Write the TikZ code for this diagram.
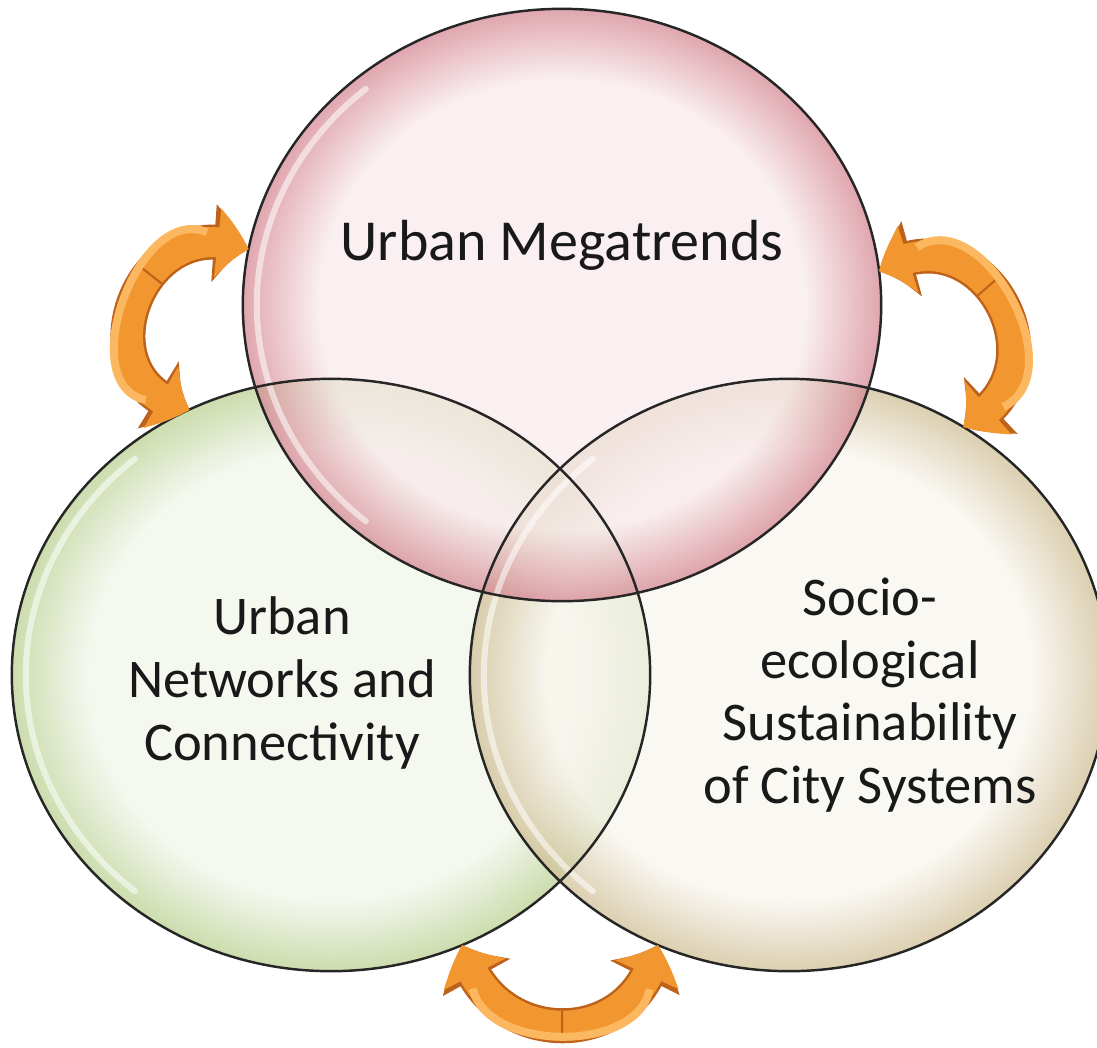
\documentclass[tikz,border=0pt]{standalone}
\usepackage{fontspec}
\setmainfont{Carlito}
\usepackage{xcolor}
\definecolor{megain}{RGB}{248,234,236}
\definecolor{megaout}{RGB}{212,132,144}
\definecolor{netin}{RGB}{241,245,233}
\definecolor{netout}{RGB}{184,207,142}
\definecolor{socin}{RGB}{248,245,238}
\definecolor{socout}{RGB}{206,189,146}
\definecolor{arrowfill}{RGB}{242,150,48}
\definecolor{arrowedge}{RGB}{188,98,26}
\definecolor{arrowlight}{RGB}{252,184,96}
\definecolor{textgray}{RGB}{25,25,25}
\usetikzlibrary{shapes}
\usetikzlibrary{arrows.meta}
\usetikzlibrary{bending}
\usepackage{tikz}

\pgfdeclareradialshading{megaball}{\pgfpoint{0bp}{0bp}}{color(0bp)=(megain); color(19bp)=(megain); color(25bp)=(megaout); color(50bp)=(megaout)}
\pgfdeclareradialshading{netball}{\pgfpoint{0bp}{0bp}}{color(0bp)=(netin); color(19bp)=(netin); color(25bp)=(netout); color(50bp)=(netout)}
\pgfdeclareradialshading{socball}{\pgfpoint{0bp}{0bp}}{color(0bp)=(socin); color(19bp)=(socin); color(25bp)=(socout); color(50bp)=(socout)}

\begin{document}
\begin{tikzpicture}[x=0.01cm,y=0.01cm,
    circ style/.style={ellipse,inner sep=0pt,outer sep=0pt,minimum width=6.38cm,
      minimum height=5.92cm,fill opacity=0.72},
    rim style/.style={draw=black!85,line width=0.7pt},
    shine style/.style={draw=white,line width=0.06cm,opacity=0.55,line cap=round},
    label style/.style={align=center,text=textgray,
      font=\fontsize{15.5}{17.8}\selectfont},
    arrow back/.style={line width=0.35cm,draw=arrowedge,
      {Triangle[length=0.36cm,width=0.74cm,bend]}-{Triangle[length=0.36cm,width=0.74cm,bend]}},
    arrow front/.style={line width=0.30cm,draw=arrowfill,
      {Triangle[length=0.32cm,width=0.67cm,bend]}-{Triangle[length=0.32cm,width=0.67cm,bend]}},
    arrow shine/.style={line width=0.08cm,draw=arrowlight,shorten <=0.45cm,shorten >=0.45cm},
    seam style/.style={rectangle,sloped,inner sep=0pt,minimum width=0.02cm,
      minimum height=0.30cm,fill=arrowedge}
  ]
  \useasboundingbox (0,0) rectangle (1097,1047);

  % the three spheres
  \node[circ style,shade,shading=netball] (net) at (331,372) {};
  \node[circ style,shade,shading=socball] (soc) at (789,372) {};
  \node[circ style,shade,shading=megaball] (mega) at (562,742) {};

  % glossy highlights
  \foreach \n in {net,soc,mega}
    \draw[shine style] (\n.center) ++(130:3.05cm and 2.82cm) arc [start angle=130,end angle=230,x radius=3.05cm,y radius=2.82cm];

  \foreach \n in {net,soc,mega}
    \draw[rim style] (\n.center) ellipse [x radius=3.19cm,y radius=2.96cm];

  \node[label style,font=\fontsize{16.5}{19}\selectfont] (megatxt) at (562,802) {Urban Megatrends};
  \node[label style] (nettxt) at (282,364) {Urban\\Networks and\\Connectivity};
  \node[label style] (soctxt) at (870,352) {Socio-\\ecological\\Sustainability\\of City Systems};

  % two-way arrows
  \draw[arrow back] (mega.170) to[out=157,in=168,looseness=1.8] (net.118);
  \draw[arrow front] (mega.170) to[out=157,in=168,looseness=1.8] node[seam style,pos=0.38] (leftseam) {} (net.118);
  \draw[arrow shine] (mega.170) to[out=157,in=168,looseness=1.8] (net.118);

  \draw[arrow back] (mega.6) to[out=33,in=26,looseness=1.8] (soc.55);
  \draw[arrow front] (mega.6) to[out=33,in=26,looseness=1.8] node[seam style,pos=0.42] (rightseam) {} (soc.55);
  \draw[arrow shine] (mega.6) to[out=33,in=26,looseness=1.8] (soc.55);

  \draw[arrow back] (net.-64) to[out=-77,in=-100,looseness=1.45] (soc.-116);
  \draw[arrow front] (net.-64) to[out=-77,in=-100,looseness=1.45] node[seam style,pos=0.5] (bottomseam) {} (soc.-116);
  \draw[arrow shine] (net.-64) to[out=-77,in=-100,looseness=1.45] (soc.-116);
\end{tikzpicture}
\end{document}
